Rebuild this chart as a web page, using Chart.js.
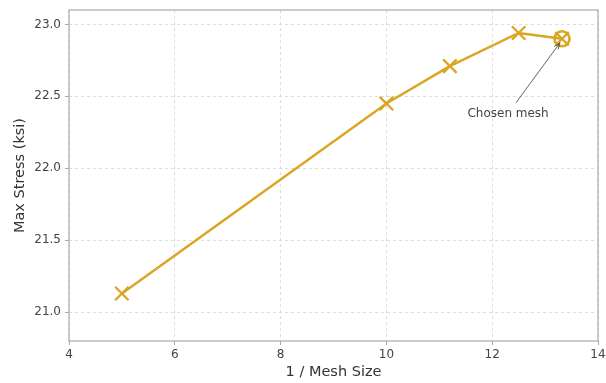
<!DOCTYPE html>
<html>
<head>
<meta charset="utf-8">
<script src="https://cdn.jsdelivr.net/npm/chart.js@4"></script>
<style>
  html, body { margin: 0; padding: 0; background: #fff; }
  #wrap { width: 606px; height: 383px; }
</style>
</head>
<body>
<div id="wrap"><canvas id="meshChart" width="606" height="383"></canvas></div>
<script>
// 1 / mesh size vs max stress
const invMeshSize = [5, 10, 11.2, 12.5, 13.32];
const maxStress = [21.13, 22.45, 22.71, 22.94, 22.90];
const chosenX = [13.32];
const chosenY = [22.90];
const xTicks = [4, 6, 8, 10, 12, 14];
const yTicks = [21.0, 21.5, 22.0, 22.5, 23.0];
const noteText = 'Chosen mesh';
const noteAt = { x: 12.3, y: 22.38 };

const gold = '#daa520';

const boxAndNote = {
  id: 'boxAndNote',
  afterDraw(chart) {
    const c = chart.ctx, a = chart.chartArea;
    const xs = chart.scales.x, ys = chart.scales.y;
    c.save();
    c.strokeStyle = '#aaaaaa';
    c.lineWidth = 1.2;
    c.strokeRect(a.left, a.top, a.right - a.left, a.bottom - a.top);

    // annotation text + arrow
    const tx = xs.getPixelForValue(noteAt.x), ty = ys.getPixelForValue(noteAt.y);
    c.fillStyle = '#444';
    c.font = '12px "DejaVu Sans"';
    c.textAlign = 'center';
    c.textBaseline = 'middle';
    c.fillText(noteText, tx, ty);
    const x0 = tx + 8, y0 = ty - 11;
    const x1 = xs.getPixelForValue(chosenX[0]) - 2, y1 = ys.getPixelForValue(chosenY[0]) + 4;
    c.strokeStyle = '#555';
    c.lineWidth = 0.9;
    c.beginPath();
    c.moveTo(x0, y0);
    c.lineTo(x1, y1);
    c.stroke();
    const ang = Math.atan2(y1 - y0, x1 - x0);
    c.beginPath();
    c.moveTo(x1 - 7 * Math.cos(ang - 0.35), y1 - 7 * Math.sin(ang - 0.35));
    c.lineTo(x1, y1);
    c.lineTo(x1 - 7 * Math.cos(ang + 0.35), y1 - 7 * Math.sin(ang + 0.35));
    c.stroke();
    c.restore();
  }
};

const ctx = document.getElementById('meshChart').getContext('2d');
const meshChart = new Chart(ctx, {
  type: 'scatter',
  data: {
    datasets: [{
      data: invMeshSize.map((x, i) => ({ x: x, y: maxStress[i] })),
      showLine: true,
      borderColor: gold,
      backgroundColor: gold,
      borderWidth: 2.4,
      pointStyle: 'crossRot',
      pointRadius: 9.5,
      pointBorderWidth: 2.3,
      pointBorderColor: gold
    }, {
      data: chosenX.map((x, i) => ({ x: x, y: chosenY[i] })),
      showLine: false,
      pointStyle: 'circle',
      pointRadius: 7.5,
      pointBorderWidth: 2.6,
      pointBorderColor: gold,
      pointBackgroundColor: 'rgba(0,0,0,0)'
    }]
  },
  options: {
    responsive: false,
    animation: false,
    layout: { autoPadding: false, padding: { left: 12, right: 8, top: 10, bottom: 2 } },
    plugins: { legend: { display: false }, tooltip: { enabled: false } },
    scales: {
      x: {
        type: 'linear',
        min: 4, max: 14,
        afterBuildTicks: s => { s.ticks = xTicks.map(v => ({ value: v })); },
        afterFit: s => { s.height = 40; s.paddingLeft = 0; s.paddingRight = 0; },
        grid: { color: '#dddddd', tickLength: 4, tickColor: '#aaaaaa', drawTicks: true },
        border: { display: false, dash: [3, 3] },
        ticks: { color: '#444', font: { family: 'DejaVu Sans', size: 12 }, padding: 3, maxRotation: 0 },
        title: { display: true, text: '1 / Mesh Size', color: '#333', font: { family: 'DejaVu Sans', size: 14.5 }, padding: { top: 2, bottom: 0 } }
      },
      y: {
        type: 'linear',
        min: 20.8, max: 23.1,
        afterBuildTicks: s => { s.ticks = yTicks.map(v => ({ value: v })); },
        afterFit: s => { s.width = 57; s.paddingTop = 0; s.paddingBottom = 0; },
        grid: { color: '#dddddd', tickLength: 4, tickColor: '#aaaaaa' },
        border: { display: false, dash: [3, 3] },
        ticks: { color: '#444', font: { family: 'DejaVu Sans', size: 12 }, padding: 4, callback: v => v.toFixed(1) },
        title: { display: true, text: 'Max Stress (ksi)', color: '#333', font: { family: 'DejaVu Sans', size: 14.5 }, padding: { top: 0, bottom: 4 } }
      }
    }
  },
  plugins: [boxAndNote]
});
</script>
</body>
</html>
